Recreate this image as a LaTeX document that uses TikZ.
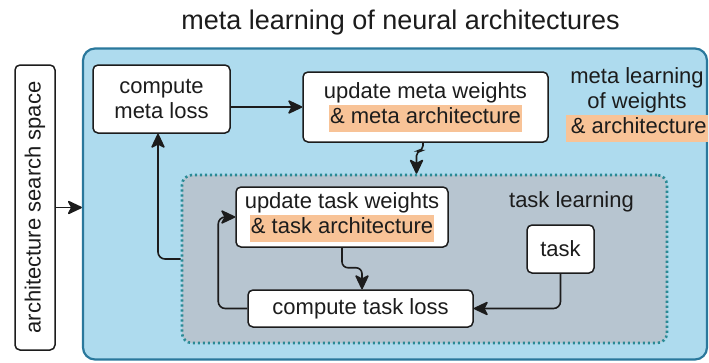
\documentclass[tikz,border=0pt]{standalone}
\usepackage{fontspec}
\setmainfont{Liberation Sans}
\usetikzlibrary{arrows.meta}
\definecolor{outerfill}{HTML}{AEDBEE}
\definecolor{outerline}{HTML}{2A789C}
\definecolor{innerfill}{HTML}{B7C5D0}
\definecolor{innerline}{HTML}{2A8A95}
\definecolor{hlc}{HTML}{F8C397}
\definecolor{ink}{HTML}{1C1C1C}
\newcommand\hlt[1]{{\setlength\fboxsep{1pt}\colorbox{hlc}{\strut #1}}}
\tikzset{
  box/.style={draw=ink, line width=1.5pt, fill=white, rounded corners=5pt,
    align=center, inner sep=0pt, text=ink},
  lbl/.style={align=center, inner sep=0pt, text=ink},
  tip/.tip={Stealth[length=16pt,width=15pt,inset=4pt,round]},
  arr/.style={draw=ink, line width=1.6pt, rounded corners=7pt, -tip},
}
\begin{document}
\begin{tikzpicture}[x=1pt, y=-1pt, font=\fontsize{22}{25}\selectfont]
\useasboundingbox (0,0) rectangle (709,362);

% title
\node[lbl, anchor=base, font=\fontsize{27}{30}\selectfont] (title) at (400.5,29) {meta learning of neural architectures};

% search space (vertical)
\node[box, rotate=90, minimum width=285pt, minimum height=40pt] (space) at (35,207.5) {architecture search space};

% outer meta learning region
\node[draw=outerline, fill=outerfill, line width=2.2pt, rounded corners=12pt,
      minimum width=624pt, minimum height=311pt, inner sep=0pt] (outer) at (395,204) {};

\node[lbl] (metalbl) at (637,105) {meta learning\\of weights\\\hlt{\,\& architecture}};

\node[box, minimum width=137pt, minimum height=68pt] (cml) at (161.5,99) {compute\\meta loss};
\node[box, minimum width=245pt, minimum height=70pt] (umw) at (425.5,107) {update meta weights\\\hlt{\& meta architecture}};

% inner task learning region
\node[draw=innerline, fill=innerfill, line width=2.6pt, rounded corners=10pt,
      dash pattern=on 2.2pt off 2.8pt,
      minimum width=485pt, minimum height=168pt, inner sep=0pt] (inner) at (424.5,259) {};

\node[lbl, anchor=base] (tasklbl) at (571.5,207) {task learning};

\node[box, minimum width=212pt, minimum height=60pt] (utw) at (342,217) {update task weights\\\hlt{\& task architecture}};
\node[box, minimum width=225pt, minimum height=37pt] (ctl) at (360.5,308.5) {compute task loss};
\node[box, minimum width=67pt, minimum height=48pt] (task) at (560.5,249) {task};

% connectors
\draw[arr] (space.south) -- (space.south -| outer.west);
\draw[arr] (umw.west -| cml.east) -- (umw.west);
\draw[arr, rounded corners=5pt] ([xshift=-2.5pt]umw.south) -- ++(0,8) -| ([xshift=-8pt]inner.north);
\draw[arr] (inner.west) -| ([xshift=-3.5pt]cml.south);
\draw[arr, rounded corners=6pt] (utw.south) -- ++(0,20) -| ([xshift=1.5pt]ctl.north);
\draw[arr] (task.south) |- (ctl.east);
\draw[arr] (ctl.west) -- ++(-29,0) |- (utw.west);
\end{tikzpicture}
\end{document}
